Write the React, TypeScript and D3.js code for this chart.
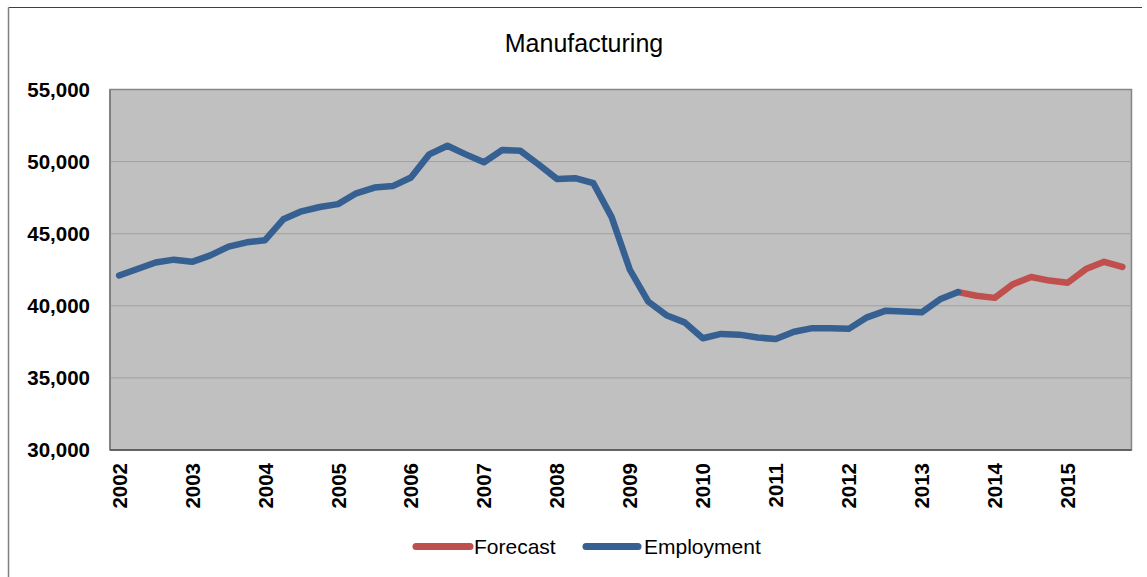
import React from "react";
import * as d3 from "d3";

const years = ["2002","2003","2004","2005","2006","2007","2008","2009","2010","2011","2012","2013","2014","2015"];
const quarters: string[] = years.flatMap((y) => ["Q1", "Q2", "Q3", "Q4"].map((q) => `${y} ${q}`));

const employment = [
  42100, 42550, 43000, 43200, 43050, 43500, 44100, 44400, 44550, 46000,
  46550, 46850, 47050, 47800, 48200, 48300, 48900, 50500, 51100, 50500,
  49950, 50800, 50750, 49800, 48800, 48850, 48500, 46150, 42500, 40300,
  39350, 38850, 37750, 38050, 38000, 37800, 37700, 38200, 38450, 38450,
  38400, 39200, 39650, 39600, 39550, 40450, 40950,
];
const forecastStart = "2013 Q3";
const forecast = [40950, 40700, 40550, 41500, 42000, 41750, 41600, 42550, 43050, 42700];
const yTicks = [30000, 35000, 40000, 45000, 50000, 55000];

const W = 1147, H = 577;
const L = 110, R = 1131.5, T = 89.5, B = 450;
const FONT = "'Liberation Sans', Arial, Helvetica, sans-serif";
const BLUE = "#376092";
const RED = "#C0504D";

export default function App() {
  const x = d3.scaleBand<string>().domain(quarters).range([L, R]);
  const cx = (q: string) => (x(q) as number) + x.bandwidth() / 2;
  const y = d3.scaleLinear().domain([30000, 55000]).range([B, T]);
  const fmt = d3.format(",");

  const empPts = employment.map((v, i) => [cx(quarters[i]), y(v)] as [number, number]);
  const fStart = quarters.indexOf(forecastStart);
  const fcPts = forecast.map((v, i) => [cx(quarters[fStart + i]), y(v)] as [number, number]);
  const line = d3.line<[number, number]>();

  return (
    <svg width={W} height={H} style={{ position: "absolute", left: 0, top: 0 }} fontFamily={FONT}>
      <rect x={0} y={0} width={W} height={H} fill="#fff" />
      <line x1={8.5} y1={7.5} x2={1142} y2={7.5} stroke="#404040" strokeWidth={1} />
      <line x1={8.5} y1={7.5} x2={8.5} y2={H} stroke="#808080" strokeWidth={1.5} />
      <text x={584} y={52} textAnchor="middle" fontSize={25} fill="#000">Manufacturing</text>

      <rect x={L} y={T} width={R - L} height={B - T} fill="#C0C0C0" stroke="#868686" strokeWidth={1.5} />
      {yTicks.filter((t) => t > 30000 && t < 55000).map((t) => (
        <line key={t} x1={L} x2={R} y1={y(t)} y2={y(t)} stroke="#a0a0a0" strokeWidth={1} />
      ))}
      <line x1={L} x2={L} y1={T} y2={B} stroke="#7a7a7a" strokeWidth={1.5} />
      <line x1={L} x2={R} y1={B} y2={B} stroke="#505050" strokeWidth={1.5} />

      {yTicks.map((t) => (
        <text key={t} x={90} y={y(t)} dy="0.36em" textAnchor="end" fontSize={20.5} fontWeight="bold" fill="#000">
          {fmt(t)}
        </text>
      ))}
      {years.map((yr) => {
        const q = `${yr} Q1`;
        const px = cx(q);
        return (
          <text key={yr} transform={`translate(${px + 7.5},463) rotate(-90)`} textAnchor="end" fontSize={20.5} fontWeight="bold" fill="#000">
            {yr}
          </text>
        );
      })}

      <path d={line(fcPts) || ""} fill="none" stroke={RED} strokeWidth={6.5} strokeLinejoin="round" strokeLinecap="round" />
      <path d={line(empPts) || ""} fill="none" stroke={BLUE} strokeWidth={6.5} strokeLinejoin="round" strokeLinecap="round" />

      <line x1={416} x2={470} y1={546.5} y2={546.5} stroke={RED} strokeWidth={7} strokeLinecap="round" />
      <text x={474} y={554} fontSize={21} fill="#000">Forecast</text>
      <line x1={586} x2={638} y1={546.5} y2={546.5} stroke={BLUE} strokeWidth={7} strokeLinecap="round" />
      <text x={644} y={554} fontSize={21} fill="#000">Employment</text>
    </svg>
  );
}
